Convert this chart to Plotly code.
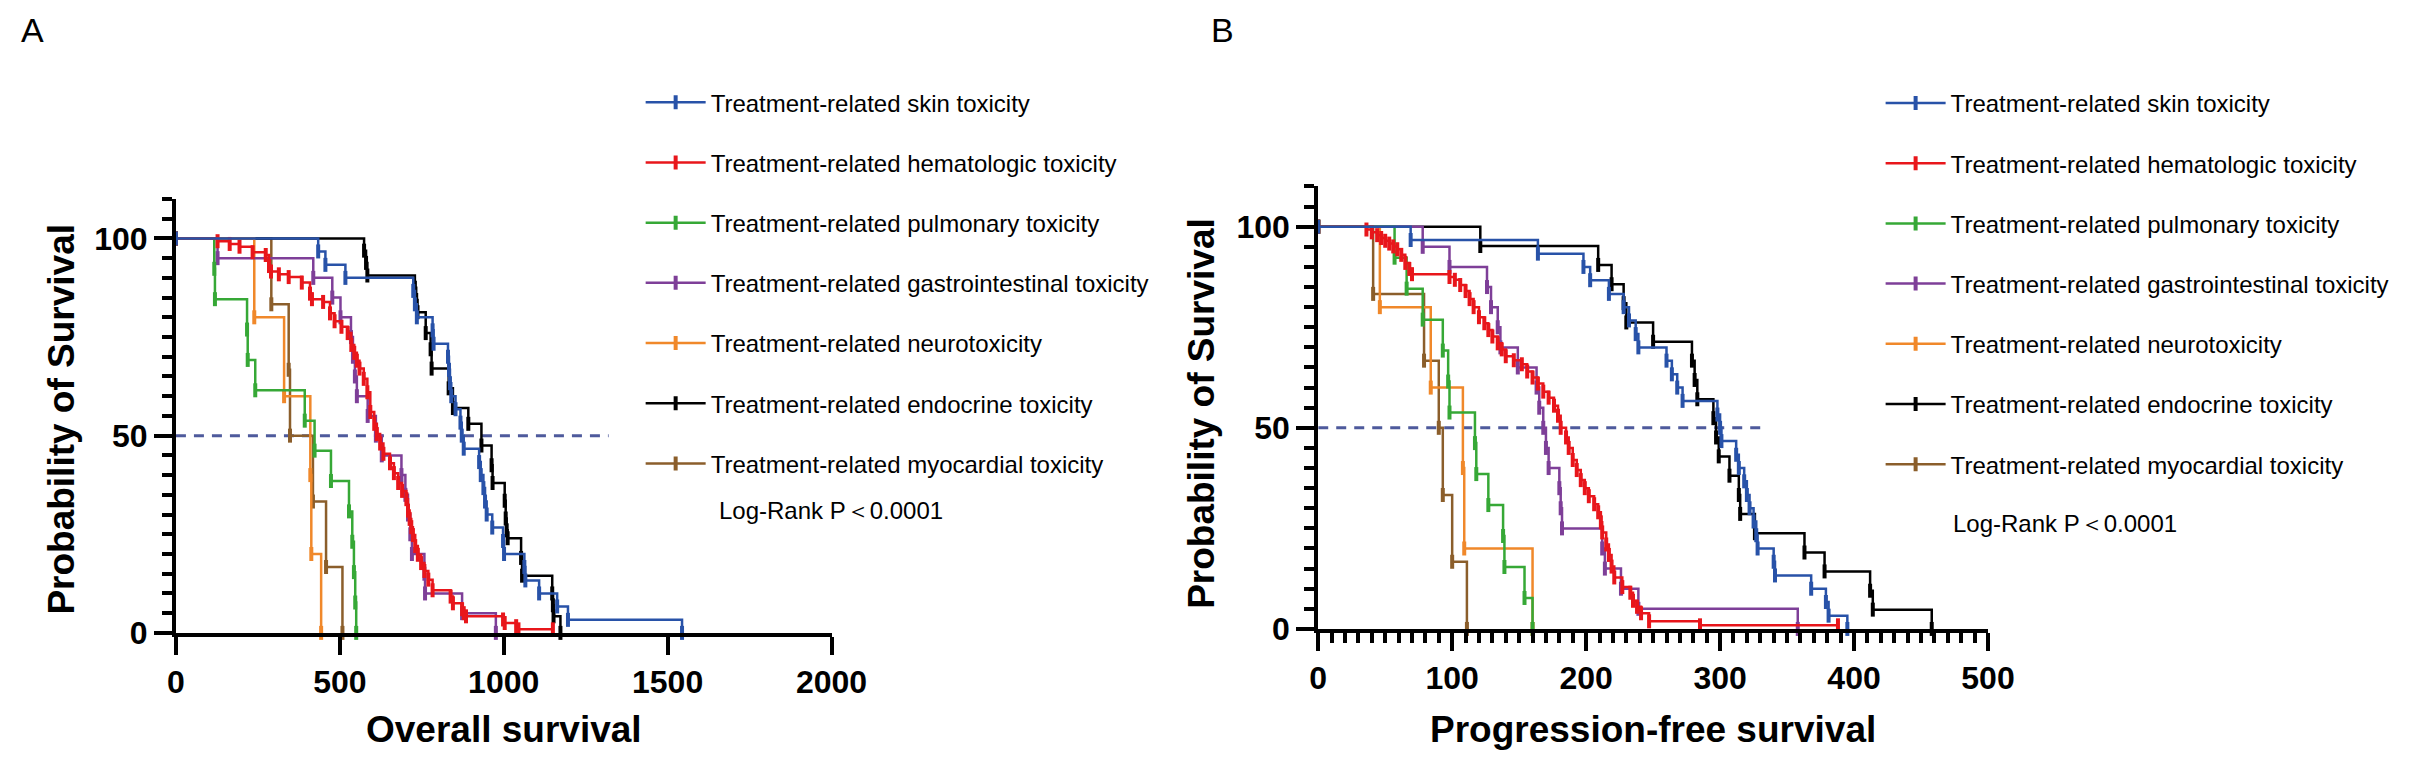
import plotly.graph_objects as go

FONT = "Arial, Liberation Sans, sans-serif"

groups = [
    "Treatment-related skin toxicity",
    "Treatment-related hematologic toxicity",
    "Treatment-related pulmonary toxicity",
    "Treatment-related gastrointestinal toxicity",
    "Treatment-related neurotoxicity",
    "Treatment-related endocrine toxicity",
    "Treatment-related myocardial toxicity",
]
colors = ["#2852A8", "#E8161B", "#36A836", "#7E3F98", "#F0882A", "#000000", "#8B5E2B"]

# ---- A: overall survival (days, % surviving), one point per step ----
os_skin_t = [0, 434, 456, 517, 724, 729, 735, 783, 786, 830, 833, 836, 840, 853, 868, 872, 878,
             925, 930, 938, 943, 948, 965, 998, 1001, 1063, 1066, 1108, 1163, 1196, 1544]
os_skin_s = [100, 96.7, 93.3, 90, 86.7, 83.3, 80, 76.7, 73.3, 70, 66.7, 63.3, 60, 56.7, 53.3, 50, 46.7,
             43.3, 40, 36.7, 33.3, 30, 26.7, 23.3, 20, 16.7, 13.3, 10, 6.7, 3.3, 0]

os_hema_t = [0, 127, 164, 194, 234, 274, 284, 290, 314, 344, 384, 409, 415, 449, 470, 484, 505, 524,
             535, 544, 552, 560, 573, 584, 593, 605, 613, 623, 633, 653, 665, 678, 690, 703, 708, 713,
             718, 723, 730, 738, 748, 758, 770, 783, 838, 845, 873, 878, 885, 998, 1003, 1038, 1045, 1150]
os_hema_s = [100, 99.3, 98.6, 97.9, 96.5, 95.8, 93, 91.6, 90.9, 90.2, 88.8, 86, 84.6, 83.9, 81, 79, 77.6, 76,
             73, 71, 69, 67, 64.4, 61, 56, 53, 50.4, 48, 45.4, 43, 40.5, 38, 36, 33.9, 31, 28.9,
             26.8, 24.8, 22, 19.8, 17.7, 15.7, 13.5, 10.8, 9.2, 7.5, 6, 5, 4.2, 3.4, 2.5, 1.7, 0.9, 0.9]

os_pulm_t = [0, 117, 119, 217, 219, 242, 393, 423, 473, 528, 538, 543, 547, 550]
os_pulm_s = [100, 92.3, 84.6, 76.9, 69.2, 61.5, 53.8, 46.2, 38.5, 30.8, 23.1, 15.4, 7.7, 0]

os_gi_t = [0, 127, 419, 477, 502, 534, 540, 546, 552, 585, 610, 628, 688, 700, 708, 715, 720, 758, 760, 873, 976]
os_gi_s = [100, 95, 90, 85, 80, 75, 70, 65, 60, 55, 50, 45, 40, 35, 30, 25, 20, 15, 10, 5, 0]

os_neuro_t = [0, 239, 330, 410, 413, 443]
os_neuro_s = [100, 80, 60, 40, 20, 0]

os_endo_t = [0, 574, 580, 584, 729, 733, 737, 762, 777, 780, 832, 845, 892, 932, 963, 966,
             1003, 1006, 1009, 1012, 1053, 1056, 1148, 1150, 1152, 1173]
os_endo_s = [100, 96.9, 93.8, 90.6, 87.5, 84.4, 81.3, 76, 71.9, 67, 62, 57, 53, 47.5, 42.5, 38,
             33.5, 29, 26, 24, 19, 14.5, 10, 7, 4.2, 0]

os_myo_t = [0, 291, 344, 348, 418, 458, 508]
os_myo_s = [100, 83.3, 66.7, 50, 33.3, 16.7, 0]

# ---- B: progression-free survival ----
pfs_skin_t = [0, 69, 164, 198, 203, 217, 228, 232, 237, 239, 260, 264, 268, 272, 298, 300, 301, 312,
              314, 318, 320, 322, 325, 327, 328, 340, 341, 368, 379, 381, 395]
pfs_skin_s = [100, 96.7, 93.3, 90, 86.7, 83.3, 80, 76.7, 73.3, 70, 66.7, 63.3, 60, 56.7, 53.3, 50, 46.7, 43.3,
              40, 36.7, 33.3, 30, 26.7, 23.3, 20, 16.7, 13.3, 10, 6.7, 3.3, 0]

pfs_hema_t = [0, 36, 40, 44, 47, 50, 53, 56, 59, 62, 65, 68, 70, 98, 102, 106, 110, 113, 116, 120,
              124, 127, 130, 134, 137, 140, 146, 152, 156, 160, 164, 168, 172, 176, 179, 181, 185, 187,
              190, 193, 196, 199, 202, 206, 209, 211, 212, 215, 217, 219, 221, 227, 233, 235, 238, 241,
              247, 285, 388]
pfs_hema_s = [100, 99.3, 98.6, 97.9, 97.2, 96.5, 95.8, 95.1, 94.4, 93, 91, 89.5, 88.2, 87.5, 86.8, 85.5, 84, 82, 80, 77.5,
              76, 74.3, 72.7, 71, 69.5, 67.8, 66.8, 65.8, 64, 62.5, 61, 59, 57.5, 55.5, 53, 50, 47.6, 45,
              42, 39.5, 37, 35, 33, 31, 29, 26.5, 24, 21, 18.4, 15.5, 12.8, 10.4, 9, 7, 5.5, 3.9,
              1.9, 0.9, 0.9]

pfs_pulm_t = [0, 57, 66, 78, 93, 97, 98, 117, 118, 127, 138, 139, 154, 160]
pfs_pulm_s = [100, 92.3, 84.6, 76.9, 69.2, 61.5, 53.8, 46.2, 38.5, 30.8, 23.1, 15.4, 7.7, 0]

pfs_gi_t = [0, 78, 98, 126, 129, 134, 136, 149, 163, 165, 168, 170, 172, 180, 181, 182, 212, 214, 226, 239, 358]
pfs_gi_s = [100, 95, 90, 85, 80, 75, 70, 65, 60, 55, 50, 45, 40, 35, 30, 25, 20, 15, 10, 5, 0]

pfs_neuro_t = [0, 46, 84, 108, 109, 160]
pfs_neuro_s = [100, 80, 60, 40, 20, 0]

pfs_endo_t = [0, 121, 209, 219, 228, 230, 250, 279, 281, 283, 295, 297, 299, 307, 314, 315, 326, 363, 378, 412, 414, 458]
pfs_endo_s = [100, 95.2, 90.5, 85.7, 81, 76.2, 71.4, 66.7, 61.9, 57.1, 52.4, 47.6, 42.9, 38.1, 33.3, 28.6, 23.8, 19, 14.3, 9.5, 4.8, 0]

pfs_myo_t = [0, 41, 79, 90, 93, 100, 111]
pfs_myo_s = [100, 83.3, 66.7, 50, 33.3, 16.7, 0]

median_line_os = [0, 1320]
median_line_pfs = [0, 330]

os_curves = [(os_skin_t, os_skin_s), (os_hema_t, os_hema_s), (os_pulm_t, os_pulm_s), (os_gi_t, os_gi_s),
             (os_neuro_t, os_neuro_s), (os_endo_t, os_endo_s), (os_myo_t, os_myo_s)]
pfs_curves = [(pfs_skin_t, pfs_skin_s), (pfs_hema_t, pfs_hema_s), (pfs_pulm_t, pfs_pulm_s), (pfs_gi_t, pfs_gi_s),
              (pfs_neuro_t, pfs_neuro_s), (pfs_endo_t, pfs_endo_s), (pfs_myo_t, pfs_myo_s)]


def add_panel(fig, curves, xref, yref, legend, tag, median_x):
    fig.add_trace(go.Scatter(
        x=median_x, y=[50, 50], mode="lines", xaxis=xref, yaxis=yref,
        line=dict(color="#4E5A9C", width=3, dash="10px,8px"), showlegend=False, hoverinfo="skip"))
    # draw back to front so skin/hematologic sit on top
    for i in reversed(range(len(curves))):
        t, s = curves[i]
        fig.add_trace(go.Scatter(
            x=t, y=s, mode="lines+markers", line_shape="hv", xaxis=xref, yaxis=yref,
            name=groups[i], legend=legend, legendgroup=f"{tag}{i}", legendrank=i + 1,
            line=dict(color=colors[i], width=2.5),
            marker=dict(symbol="line-ns", size=10, line=dict(color=colors[i], width=4)),
            cliponaxis=False))


fig = go.Figure()
add_panel(fig, os_curves, "x", "y", "legend", "a", median_line_os)
add_panel(fig, pfs_curves, "x2", "y2", "legend2", "b", median_line_pfs)

tickfont = dict(family=FONT, size=32, color="black", weight="bold")
common = dict(showline=True, linewidth=4, linecolor="black", ticks="outside", tickwidth=4,
              ticklen=18, tickcolor="black", showgrid=False, zeroline=False, tickfont=tickfont)
yminor = dict(ticks="outside", dtick=5, ticklen=10, tickwidth=4, tickcolor="black")

legend_common = dict(font=dict(family=FONT, size=24, color="black"), bgcolor="rgba(0,0,0,0)",
                     xanchor="left", yanchor="top", tracegroupgap=26, itemwidth=60)

fig.update_layout(
    width=2410, height=762, margin=dict(l=0, r=0, t=0, b=0),
    paper_bgcolor="white", plot_bgcolor="white",
    xaxis=dict(domain=[0.0672, 0.3444], range=[0, 2000], dtick=500, anchor="y", **common),
    yaxis=dict(domain=[0.1601, 0.7433], range=[0, 110], tickvals=[0, 50, 100], anchor="x",
               minor=yminor, **common),
    xaxis2=dict(domain=[0.5502, 0.8334], range=[0, 500], dtick=100, anchor="y2",
                minor=dict(ticks="outside", dtick=10, ticklen=10, tickwidth=4, tickcolor="black"), **common),
    yaxis2=dict(domain=[0.1654, 0.7601], range=[0, 110], tickvals=[0, 50, 100], anchor="x2",
                minor=yminor, **common),
    legend=dict(x=0.2637, y=0.903, **legend_common),
    legend2=dict(x=0.788, y=0.902, **legend_common),
)

title_font = dict(family=FONT, size=37, color="black", weight="bold")
letter_font = dict(family=FONT, size=34, color="black")
notes = [
    dict(text="A", x=0.001, y=0.998, xanchor="left", yanchor="top", font=letter_font),
    dict(text="B", x=0.504, y=0.998, xanchor="left", yanchor="top", font=letter_font),
    dict(text="Probability of Survival", x=0.019, y=0.448, textangle=-90, font=title_font),
    dict(text="Probability of Survival", x=0.5008, y=0.455, textangle=-90, font=title_font),
    dict(text="Overall survival", x=0.2058, y=0.03, font=title_font),
    dict(text="Progression-free survival", x=0.6918, y=0.03, font=title_font),
    dict(text="Log-Rank P＜0.0001", x=0.2958, y=0.324, xanchor="left", font=dict(family=FONT, size=24, color="black")),
    dict(text="Log-Rank P＜0.0001", x=0.8178, y=0.307, xanchor="left", font=dict(family=FONT, size=24, color="black")),
]
for n in notes:
    n.setdefault("xanchor", "center")
    n.setdefault("yanchor", "middle")
    fig.add_annotation(xref="paper", yref="paper", showarrow=False, **n)

fig.write_html("out.html")
